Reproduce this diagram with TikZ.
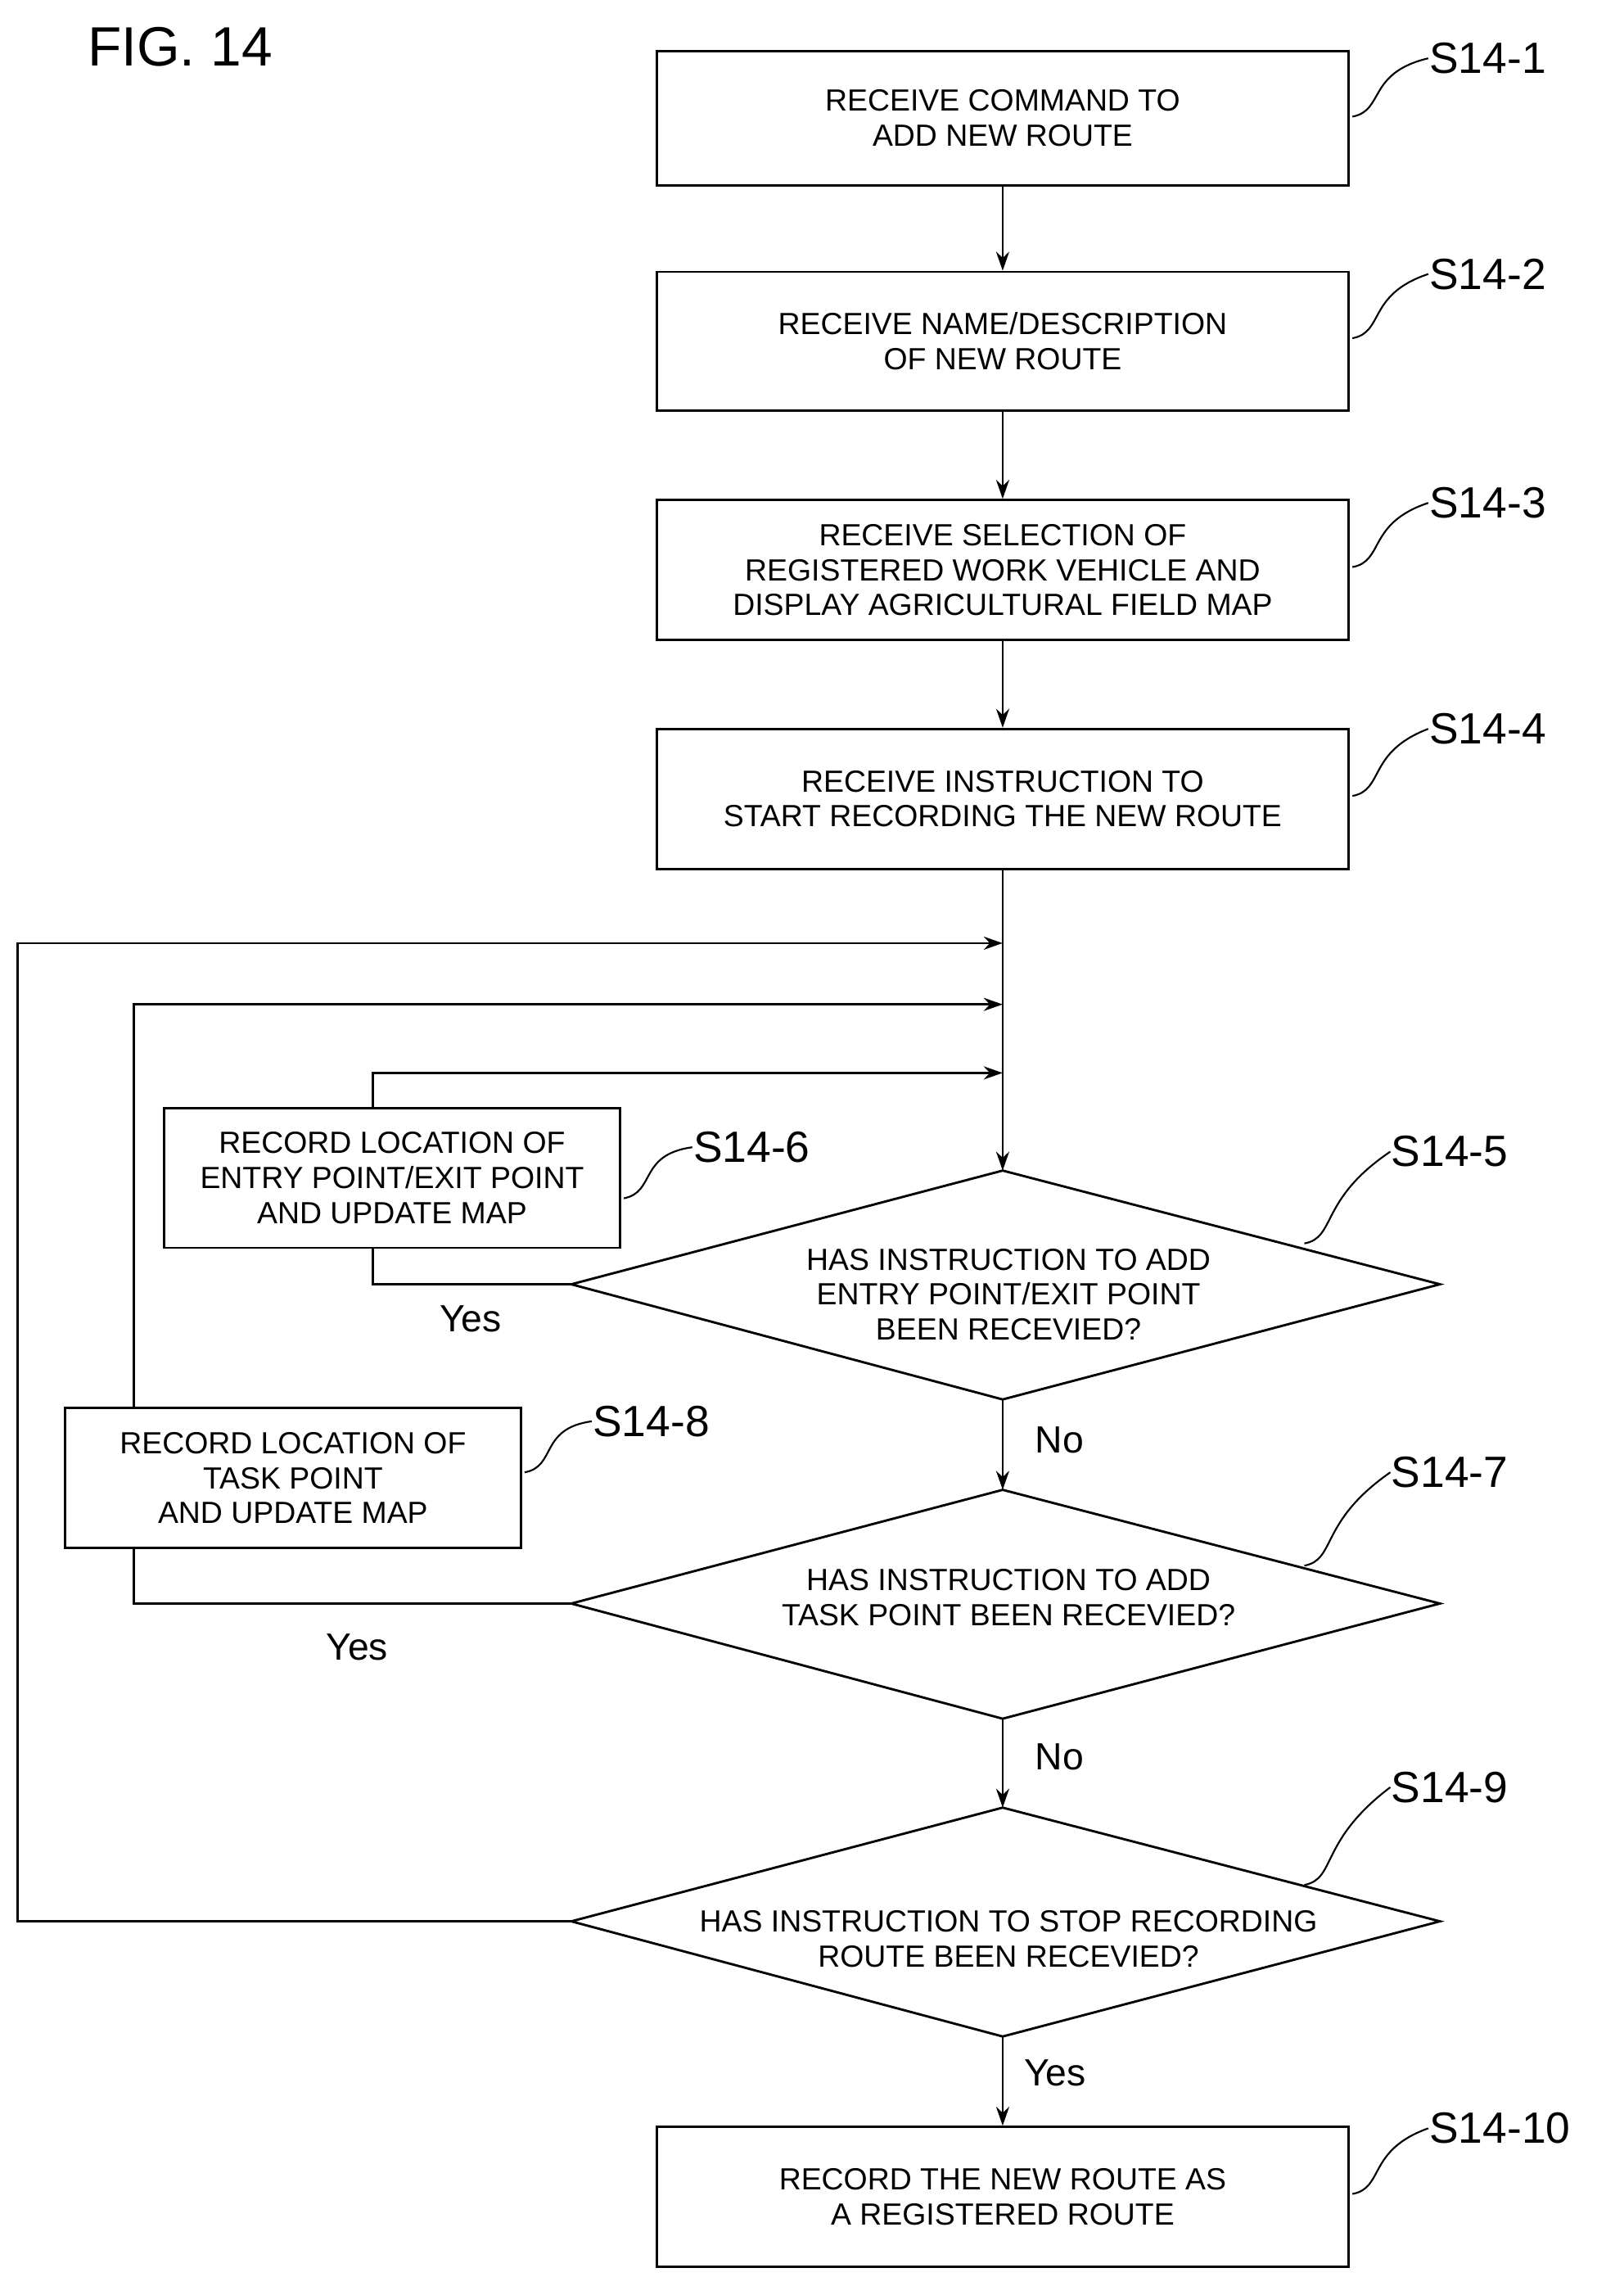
\documentclass[tikz,border=0pt]{standalone}
\usepackage{fontspec}
\setmainfont{Liberation Sans}
\usetikzlibrary{arrows.meta,calc}
\begin{document}
\begin{tikzpicture}[x=1pt,y=-1pt,line width=1.6pt,
  box/.style={draw,rectangle,minimum width=475pt,minimum height=92pt,align=center,font=\fontsize{21}{24}\selectfont,inner sep=0},
  sbox/.style={draw,rectangle,minimum width=313pt,minimum height=96pt,align=center,font=\fontsize{21}{24}\selectfont,inner sep=0},
  dtext/.style={align=center,font=\fontsize{21}{24}\selectfont},
  lab/.style={font=\fontsize{30}{32}\selectfont,anchor=west},
  yn/.style={font=\fontsize{26}{28}\selectfont},
  arr/.style={-{Stealth[length=13pt,width=9pt]}}]
\useasboundingbox (0,0) rectangle (1114,1562);
\node[font=\fontsize{38}{40}\selectfont,anchor=west] (fig) at (56,32) {FIG. 14};
\node[box] (b1) at (688,81) {RECEIVE COMMAND TO\\ADD NEW ROUTE};
\node[box,minimum height=95pt] (b2) at (688,234) {RECEIVE NAME/DESCRIPTION\\OF NEW ROUTE};
\node[box,minimum height=96pt] (b3) at (688,391) {RECEIVE SELECTION OF\\REGISTERED WORK VEHICLE AND\\DISPLAY AGRICULTURAL FIELD MAP};
\node[box,minimum height=96pt] (b4) at (688,548) {RECEIVE INSTRUCTION TO\\START RECORDING THE NEW ROUTE};
\node[box,minimum height=96pt] (b10) at (688,1507) {RECORD THE NEW ROUTE AS\\A REGISTERED ROUTE};
\node[sbox] (b6) at (269,808) {RECORD LOCATION OF\\ENTRY POINT/EXIT POINT\\AND UPDATE MAP};
\node[sbox] (b8) at (201,1014) {RECORD LOCATION OF\\TASK POINT\\AND UPDATE MAP};
\foreach \n/\y in {5/881,7/1100,9/1318}{
  \coordinate (d\n t) at (688,\y-78);
  \coordinate (d\n b) at (688,\y+79);
  \coordinate (d\n l) at (392,\y);
  \coordinate (d\n r) at (988,\y);
  \draw (d\n t) -- (d\n r) -- (d\n b) -- (d\n l) -- cycle;
}
\node[dtext] (t5) at (692,888) {HAS INSTRUCTION TO ADD\\ENTRY POINT/EXIT POINT\\BEEN RECEVIED?};
\node[dtext] (t7) at (692,1096) {HAS INSTRUCTION TO ADD\\TASK POINT BEEN RECEVIED?};
\node[dtext] (t9) at (692,1330) {HAS INSTRUCTION TO STOP RECORDING\\ROUTE BEEN RECEVIED?};
\draw[arr] (b1) -- (b2);
\draw[arr] (b2) -- (b3);
\draw[arr] (b3) -- (b4);
\draw[arr] (b4.south) -- (d5t);
\draw[arr] (d5b) -- (d7t);
\draw[arr] (d7b) -- (d9t);
\draw[arr] (d9b) -- (b10.north);
\coordinate (m1) at (688,647);
\coordinate (m2) at (688,689);
\coordinate (m3) at (688,736);
\coordinate (b8s) at (92,1062);
\coordinate (b8n) at (92,966);
\coordinate (b6s) at (256,856);
\coordinate (b6n) at (256,760);
\draw[arr] (d9l) -- (12,1318) -- (12,647) -- (m1);
\draw (d7l) -- (92,1100) -- (b8s);
\draw[arr] (b8n) -- (92,689) -- (m2);
\draw (d5l) -- (256,881) -- (b6s);
\draw[arr] (b6n) -- (256,736) -- (m3);
\node[yn] (y5) at (323,905) {Yes};
\node[yn] (n5) at (727,988) {No};
\node[yn] (y7) at (245,1130) {Yes};
\node[yn] (n7) at (727,1205) {No};
\node[yn] (y9) at (724,1422) {Yes};
\foreach \nm/\x/\y/\t in {l1/978/40/S14-1,l2/978/188/S14-2,l3/978/345/S14-3,l4/978/500/S14-4,l10/978/1460/S14-10,l5/952/790/S14-5,l7/952/1010/S14-7,l9/952/1226/S14-9,l6/473/787/S14-6,l8/404/975/S14-8}{
  \node[lab,inner sep=2pt] (\nm) at (\x,\y) {\t};
}
\foreach \nm/\ex/\ey in {l1/928/80,l2/928/232,l3/928/389,l4/928/546,l10/928/1505,l5/895/853,l7/895/1074,l9/895/1293,l6/428/822,l8/360/1010}{
  \draw[line width=1.2pt] (\ex,\ey) .. controls (\ex+22,\ey-4) and (\ex+10,\ey-30) .. ($(\nm.west)+(2,0)$);
}
\end{tikzpicture}
\end{document}
